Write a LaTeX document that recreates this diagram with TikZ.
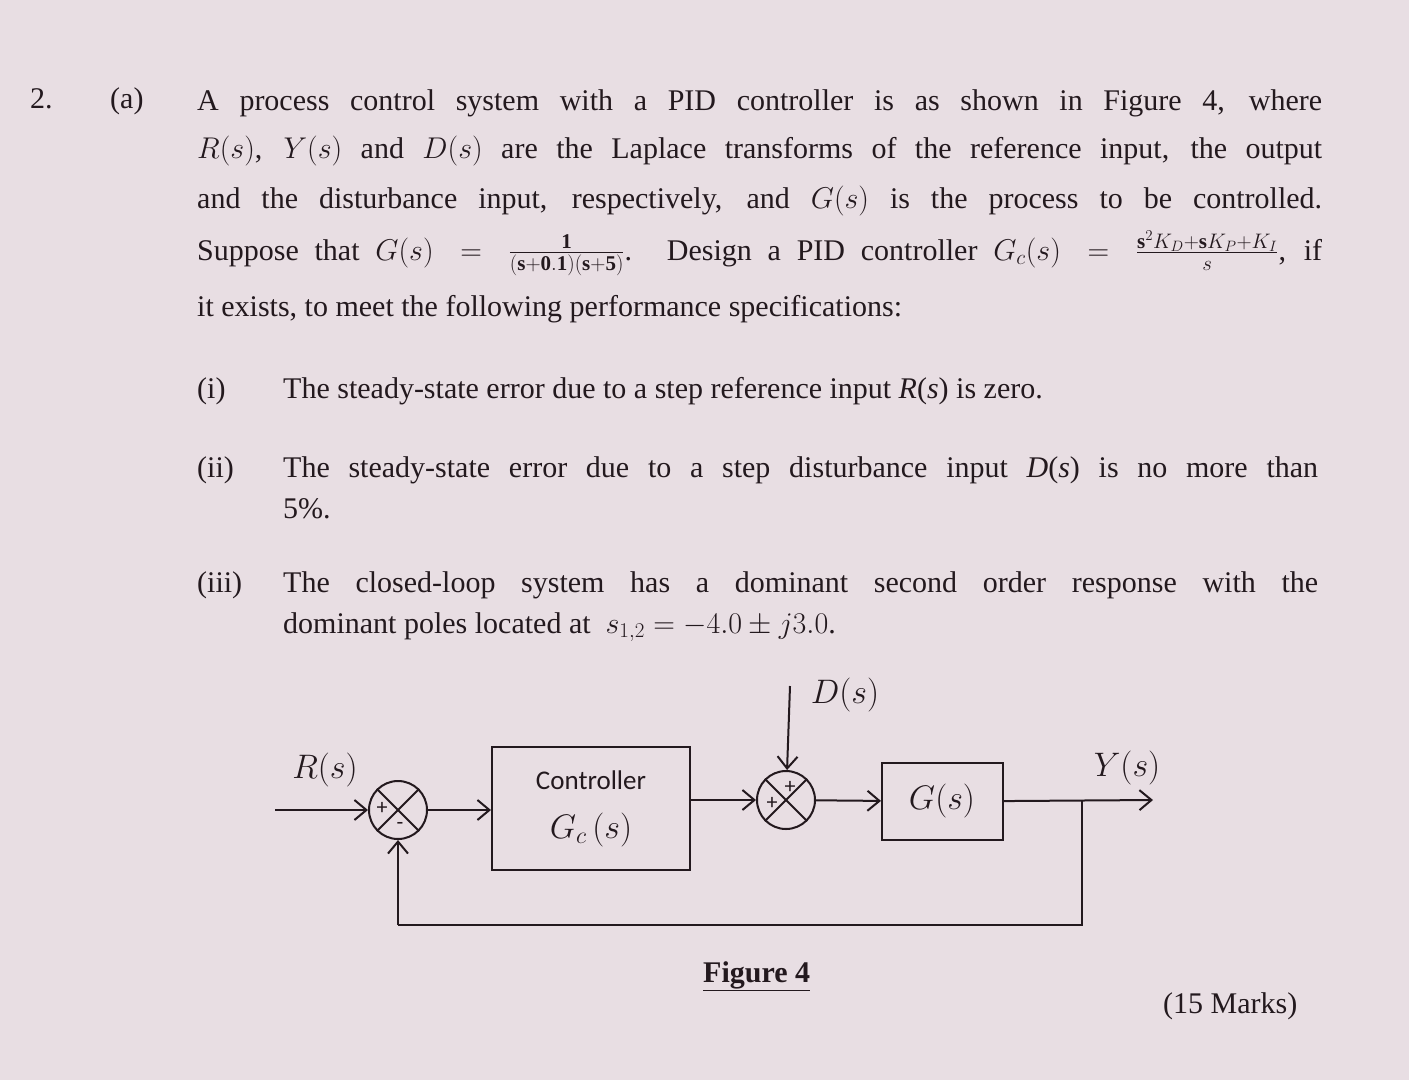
\documentclass[tikz,border=0pt]{standalone}
\usepackage{fix-cm}
\usepackage{fontspec}
\setmainfont{Liberation Serif}
\setsansfont{Carlito}
\usetikzlibrary{arrows.meta}
\definecolor{bg}{RGB}{232,222,227}
\definecolor{ink}{RGB}{35,25,30}
\tikzset{
  txt/.style={anchor=base west,inner sep=0,text=ink,font=\fontsize{30}{36}\selectfont},
  blk/.style={draw=ink,line width=2pt,inner sep=0},
  sumj/.style={draw=ink,line width=2pt,circle,minimum size=58pt,inner sep=0},
  sig/.style={draw=ink,line width=2pt,-{Straight Barb[length=12pt,width=20pt,line width=2pt]}},
  ln/.style={draw=ink,line width=2pt},
  lab/.style={text=ink,font=\fontsize{34}{40}\selectfont,inner sep=0}
}
\begin{document}
\begin{tikzpicture}[x=1pt,y=-1pt]
\fill[bg] (0,0) rectangle (1409,1080);
\useasboundingbox (0,0) rectangle (1409,1080);
\node[txt] (n2) at (30,108) {2.};
\node[txt] (na) at (110,108) {(a)};
\node[txt] (l1) at (197,110) {\makebox[1125pt][s]{A process control system with a PID controller is as shown in Figure 4, where}};
\node[txt] (l2) at (197,158) {\makebox[1125pt][s]{$R(s)$, $Y(s)$ and $D(s)$ are the Laplace transforms of the reference input, the output}};
\node[txt] (l3) at (197,208) {\makebox[1125pt][s]{and the disturbance input, respectively, and $G(s)$ is the process to be controlled.}};
\node[txt] (l4) at (197,260) {\makebox[1125pt][s]{Suppose that $G(s)=\frac{\mathbf{1}}{(\mathbf{s}+\mathbf{0.1})(\mathbf{s}+\mathbf{5})}$. Design a PID controller $G_c(s)=\frac{\mathbf{s}^2K_D+\mathbf{s}K_P+K_I}{s}$, if}};
\node[txt] (l5) at (197,316) {it exists, to meet the following performance specifications:};
\node[txt] (i1) at (197,398) {(i)};
\node[txt] (i1t) at (283,398) {The steady-state error due to a step reference input \textit{R}(\textit{s}) is zero.};
\node[txt] (i2) at (197,477) {(ii)};
\node[txt] (i2t) at (283,477) {\makebox[1035pt][s]{The steady-state error due to a step disturbance input \textit{D}(\textit{s}) is no more than}};
\node[txt] (i2u) at (283,518) {5\%.};
\node[txt] (i3) at (197,592) {(iii)};
\node[txt] (i3t) at (283,592) {\makebox[1035pt][s]{The closed-loop system has a dominant second order response with the}};
\node[txt] (i3u) at (283,633) {dominant poles located at \ $s_{1,2}=-4.0\pm j3.0$.};
% diagram
\node[sumj] (s1) at (398,810) {};
\draw[ln] (s1.north west) -- (s1.south east) (s1.north east) -- (s1.south west);
\node[text=ink,font=\sffamily\fontsize{22}{22}\selectfont,inner sep=0] at (382,808) {+};
\node[text=ink,font=\sffamily\fontsize{22}{22}\selectfont,inner sep=0] at (400,826) {-};
\node[blk,minimum width=198pt,minimum height=123pt] (ctl) at (591,808.5) {};
\node[text=ink,font=\sffamily\fontsize{27}{30}\selectfont] (ct) at (591,780) {Controller};
\node[lab] (gc) at (591,830) {$G_c\,(s)$};
\node[sumj] (s2) at (786,800) {};
\draw[ln] (s2.north west) -- (s2.south east) (s2.north east) -- (s2.south west);
\node[text=ink,font=\sffamily\fontsize{22}{22}\selectfont,inner sep=0] at (772,803) {+};
\node[text=ink,font=\sffamily\fontsize{22}{22}\selectfont,inner sep=0] at (790,787) {+};
\node[blk,minimum width=121pt,minimum height=77pt] (g) at (942.5,801.5) {};
\node[lab] (gt) at (942,801) {$G(s)$};
\coordinate (rin) at (275,810);
\coordinate (din) at (790,686);
\coordinate (br) at (1082,800);
\coordinate (yout) at (1153,800);
\coordinate (fb1) at (1082,925);
\coordinate (fb2) at (398,925);
\draw[sig] (rin) -- (s1);
\draw[sig] (s1) -- (ctl.west|-s1);
\draw[sig] (ctl.east|-s2) -- (s2);
\draw[sig] (s2) -- (g);
\draw[sig] (din) -- (s2);
\draw[sig] (g) -- (yout);
\draw[ln] (br) -- (fb1) -- (fb2);
\draw[sig] (fb2) -- (s1);
\node[lab] (rl) at (325,770) {$R(s)$};
\node[lab] (dl) at (845,695) {$D(s)$};
\node[lab] (yl) at (1127,768) {$Y(s)$};
\node[txt] (fig) at (703,982) {\textbf{\underline{Figure 4}}};
\node[txt] (mk) at (1163,1013) {(15 Marks)};
\end{tikzpicture}
\end{document}
